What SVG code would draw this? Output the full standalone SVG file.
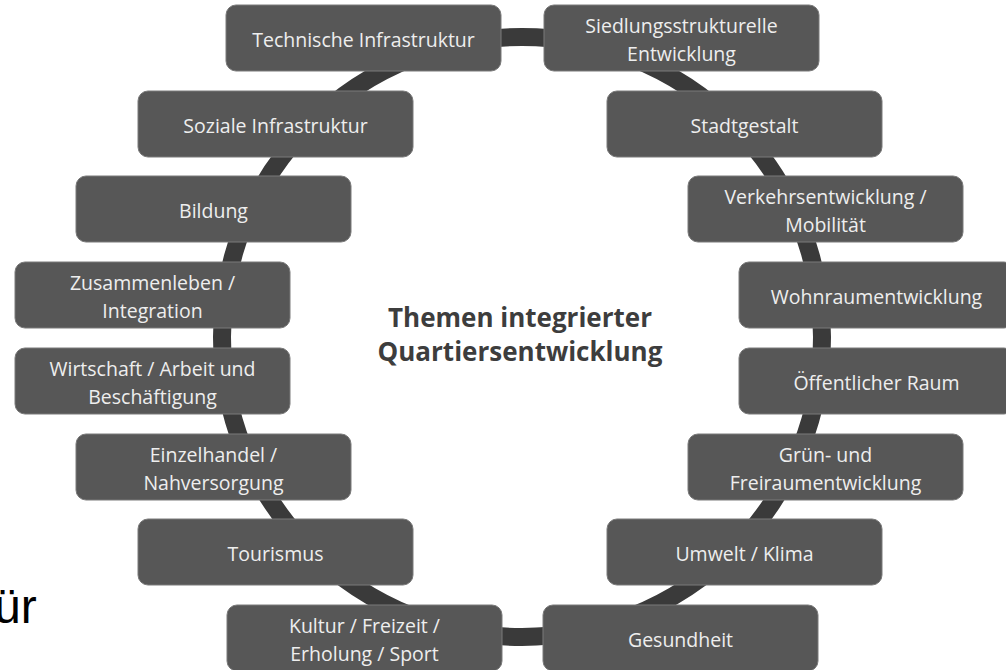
<svg xmlns="http://www.w3.org/2000/svg" width="1006" height="670" viewBox="0 0 1006 670">
<style>
.box{fill:#575757;stroke:#7a7a7a;stroke-width:1}
.lbl{font-family:"Open Sans","Noto Sans",sans-serif;font-size:19.5px;fill:#eeeeee;text-anchor:middle}
.title{font-family:"Open Sans","Noto Sans",sans-serif;font-size:26px;font-weight:bold;fill:#3d3d3d;text-anchor:middle}
.ring{fill:none;stroke:#3a3a3a;stroke-width:18}
</style>
<rect width="1006" height="670" fill="#ffffff"/>
<g id="connectors">
<circle class="ring" cx="522" cy="337" r="300"/>
</g>
<g id="n1"><rect class="box" x="226" y="5" width="275" height="66" rx="10"/><text class="lbl" x="363.5" y="46.5">Technische Infrastruktur</text></g>
<g id="n2"><rect class="box" x="544" y="5" width="275" height="66" rx="10"/><text class="lbl" x="681.5" y="33">Siedlungsstrukturelle</text><text class="lbl" x="681.5" y="61">Entwicklung</text></g>
<g id="n3"><rect class="box" x="138" y="91" width="275" height="66" rx="10"/><text class="lbl" x="275.5" y="132.5">Soziale Infrastruktur</text></g>
<g id="n4"><rect class="box" x="607" y="91" width="275" height="66" rx="10"/><text class="lbl" x="744.5" y="132.5">Stadtgestalt</text></g>
<g id="n5"><rect class="box" x="76" y="176" width="275" height="66" rx="10"/><text class="lbl" x="213.5" y="217.5">Bildung</text></g>
<g id="n6"><rect class="box" x="688" y="176" width="275" height="66" rx="10"/><text class="lbl" x="825.5" y="204">Verkehrsentwicklung /</text><text class="lbl" x="825.5" y="232">Mobilität</text></g>
<g id="n7"><rect class="box" x="15" y="262" width="275" height="66" rx="10"/><text class="lbl" x="152.5" y="290">Zusammenleben /</text><text class="lbl" x="152.5" y="318">Integration</text></g>
<g id="n8"><rect class="box" x="739" y="262" width="275" height="66" rx="10"/><text class="lbl" x="876.5" y="303.5">Wohnraumentwicklung</text></g>
<g id="n9"><rect class="box" x="15" y="348" width="275" height="66" rx="10"/><text class="lbl" x="152.5" y="376">Wirtschaft / Arbeit und</text><text class="lbl" x="152.5" y="404">Beschäftigung</text></g>
<g id="n10"><rect class="box" x="739" y="348" width="275" height="66" rx="10"/><text class="lbl" x="876.5" y="389.5">Öffentlicher Raum</text></g>
<g id="n11"><rect class="box" x="76" y="434" width="275" height="66" rx="10"/><text class="lbl" x="213.5" y="462">Einzelhandel /</text><text class="lbl" x="213.5" y="490">Nahversorgung</text></g>
<g id="n12"><rect class="box" x="688" y="434" width="275" height="66" rx="10"/><text class="lbl" x="825.5" y="462">Grün- und</text><text class="lbl" x="825.5" y="490">Freiraumentwicklung</text></g>
<g id="n13"><rect class="box" x="138" y="519" width="275" height="66" rx="10"/><text class="lbl" x="275.5" y="560.5">Tourismus</text></g>
<g id="n14"><rect class="box" x="607" y="519" width="275" height="66" rx="10"/><text class="lbl" x="744.5" y="560.5">Umwelt / Klima</text></g>
<g id="n15"><rect class="box" x="227" y="605" width="275" height="66" rx="10"/><text class="lbl" x="364.5" y="633">Kultur / Freizeit /</text><text class="lbl" x="364.5" y="661">Erholung / Sport</text></g>
<g id="n16"><rect class="box" x="543" y="605" width="275" height="66" rx="10"/><text class="lbl" x="680.5" y="646.5">Gesundheit</text></g>
<g id="title"><text class="title" x="520" y="327">Themen integrierter</text><text class="title" x="520" y="361">Quartiersentwicklung</text></g>
<text x="-6" y="623" font-family="Liberation Sans, Arial, sans-serif" font-size="48" fill="#000000">ür</text>
</svg>
